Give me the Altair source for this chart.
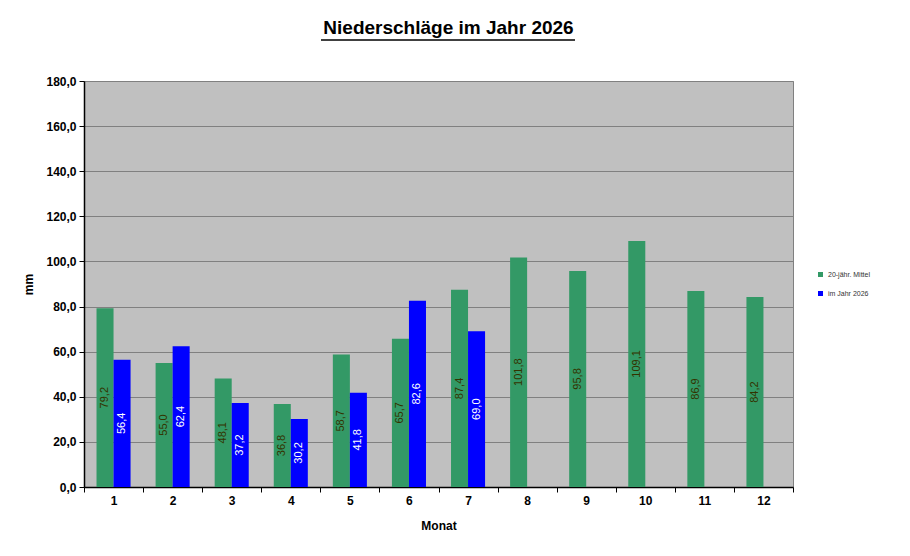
import altair as alt
import pandas as pd

months = [str(m) for m in range(1, 13)]
mittel = [79.2, 55.0, 48.1, 36.8, 58.7, 65.7, 87.4, 101.8, 95.8, 109.1, 86.9, 84.2]
jahr2026 = [56.4, 62.4, 37.2, 30.2, 41.8, 82.6, 69.0, None, None, None, None, None]
series = ["20-jähr. Mittel", "im Jahr 2026"]

rows = []
for m, a, b in zip(months, mittel, jahr2026):
    rows.append({"Monat": m, "Serie": series[0], "mm": a})
    if b is not None:
        rows.append({"Monat": m, "Serie": series[1], "mm": b})
df = pd.DataFrame(rows)
df["half"] = df["mm"] / 2
df["label"] = df["mm"].map(lambda v: f"{v:.1f}".replace(".", ","))

FONT = "Liberation Sans"

x_enc = alt.X("Monat:N", sort=months,
              scale=alt.Scale(paddingInner=0, paddingOuter=0),
              axis=alt.Axis(title="Monat", labelAngle=0, tickBand="extent",
                            labelFontWeight="bold", labelFontSize=12, labelColor="black",
                            titleFontWeight="bold", titleFontSize=12, titleColor="black",
                            tickColor="black", domainColor="black", domainWidth=1.5,
                            tickSize=5, labelPadding=3, titlePadding=14, grid=False,
                            labelFont=FONT, titleFont=FONT))
xoff = alt.XOffset("Serie:N", sort=series,
                   scale=alt.Scale(domain=series, paddingInner=0, paddingOuter=0.735))

bars = alt.Chart(df).mark_bar().encode(
    x=x_enc,
    xOffset=xoff,
    y=alt.Y("mm:Q", scale=alt.Scale(domain=[0, 180], nice=False),
            axis=alt.Axis(title="mm", values=list(range(0, 181, 20)),
                          labelExpr="replace(format(datum.value, '.1f'), '.', ',')",
                          labelFontWeight="bold", labelFontSize=12, labelColor="black",
                          titleFontWeight="bold", titleFontSize=12, titleColor="black",
                          tickColor="black", domainColor="black", domainWidth=1.5,
                          tickSize=5, labelPadding=3, titlePadding=10,
                          gridColor="#808080", gridWidth=1,
                          labelFont=FONT, titleFont=FONT)),
    color=alt.Color("Serie:N", sort=series,
                    scale=alt.Scale(domain=series, range=["#339966", "#0000FF"]),
                    legend=alt.Legend(title=None, orient="none", legendX=733, legendY=190,
                                      symbolType="square", symbolSize=25,
                                      labelFontSize=7, labelFont=FONT, labelColor="#333333",
                                      rowPadding=11, symbolStrokeWidth=0))
)

labels = alt.Chart(df).mark_text(angle=270, fontSize=11, font=FONT, baseline="middle",
                                 align="center").encode(
    x=alt.X("Monat:N", sort=months),
    xOffset=alt.XOffset("Serie:N", sort=series),
    y=alt.Y("half:Q"),
    text="label:N",
    color=alt.Color("Serie:N", sort=series,
                    scale=alt.Scale(domain=series, range=["#333300", "#FFFFFF"]),
                    legend=None)
)

underline = alt.Chart(pd.DataFrame({"a": [0]})).mark_rule(color="black", strokeWidth=1.5).encode(
    x=alt.value(237), x2=alt.value(491), y=alt.value(-41)
)

chart = alt.layer(bars, labels, underline).resolve_scale(color="independent").properties(
    width=709, height=406,
    title=alt.Title("Niederschläge im Jahr 2026", fontSize=19, font=FONT, fontWeight="bold",
                    color="black", anchor="middle", offset=-14, dx=10, baseline="alphabetic"),
    autosize=alt.AutoSizeParams(type="none"),
    padding={"left": 76, "top": 73, "right": 100, "bottom": 55},
).configure(background="white"
).configure_view(stroke="#808080", fill="#C0C0C0", strokeWidth=1)

chart.save("out.html", embed_options={"renderer": "svg", "actions": False})
